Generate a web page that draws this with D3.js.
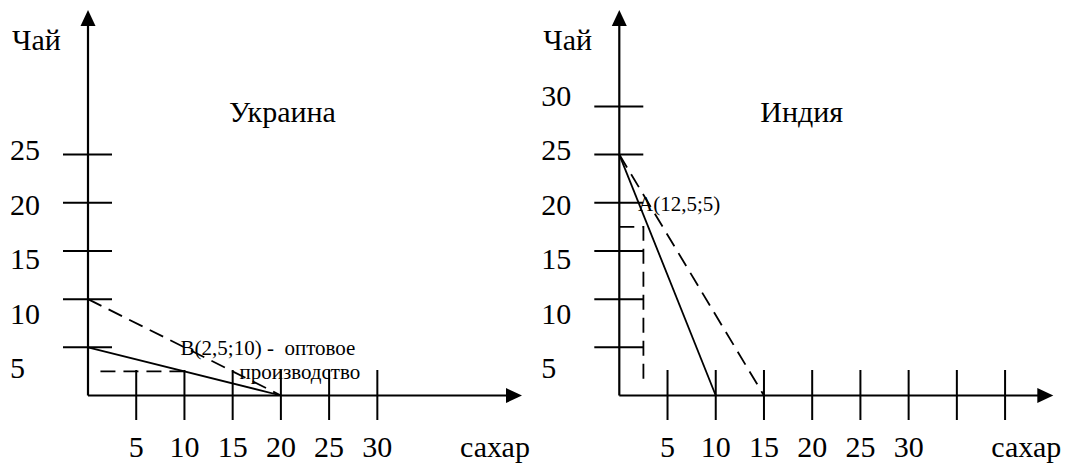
<!DOCTYPE html>
<html>
<head>
<meta charset="utf-8">
<script src="https://cdn.jsdelivr.net/npm/d3@7"></script>
<style>
  html, body { margin: 0; padding: 0; background: #fff; }
  svg { display: block; }
</style>
</head>
<body>
<svg id="chart" width="1068" height="466"></svg>
<script>
// data: two production-possibility diagrams (sugar on x, tea on y)
const yLabelsUkraine = [5, 10, 15, 20, 25];
const yTicksUkraine = [5, 10, 15, 20, 25];
const xTicksUkraine = [5, 10, 15, 20, 25, 30];
const xLabelsUkraine = [5, 10, 15, 20, 25, 30];

const yLabelsIndia = [5, 10, 15, 20, 25, 30];
const yTicksIndia = [5, 10, 15, 20, 25, 30];
const xTicksIndia = [5, 10, 15, 20, 25, 30, 35, 40];
const xLabelsIndia = [5, 10, 15, 20, 25, 30];

// frontier lines: [sugar, tea]
const ukraineSolid = [[0, 5], [20, 0]];
const ukraineDashed = [[0, 10], [20, 0]];
const ukraineGuide = [[10, 2.5], [0.8, 2.5]];

const indiaSolid = [[0, 25], [10, 0]];
const indiaDashed = [[0, 25], [15, 0]];
const indiaGuide = [[0, 17.5], [2.5, 17.5], [2.5, 0.9]];

const FONT = "'Liberation Serif', Tinos, 'Times New Roman', serif";

const svg = d3.select("#chart");

// every text goes through here so the serif face is set on the element itself
function label(g, x, y, str, size, anchor = "start") {
  return g.append("text")
    .attr("x", x).attr("y", y)
    .attr("text-anchor", anchor)
    .style("font-family", FONT)
    .style("font-size", size + "px")
    .style("white-space", "pre")
    .attr("fill", "#000")
    .text(str);
}

function drawPanel(opts) {
  const {
    left, title, yTicks, yLabels, xTicks, xLabels,
    solid, dashed, guide, notes,
  } = opts;

  const x = d3.scaleLinear().domain([0, 45]).range([left, left + 434]);
  const y = d3.scaleLinear().domain([0, 40]).range([395.5, 10]);
  // tick numbers on the y side are set a bit looser than the ticks
  const yLab = d3.scaleLinear().domain([5, 30]).range([378, 105.5]);

  const g = svg.append("g");

  // axes
  g.append("line")
    .attr("x1", x(0)).attr("x2", x(0))
    .attr("y1", y(0)).attr("y2", y(40) + 12)
    .attr("stroke", "#000").attr("stroke-width", 2.2);
  g.append("line")
    .attr("x1", x(0)).attr("x2", x(45) - 12)
    .attr("y1", y(0)).attr("y2", y(0))
    .attr("stroke", "#000").attr("stroke-width", 2.2);

  // arrow heads
  g.append("path")
    .attr("d", `M${x(0)},${y(40)} L${x(0) - 7.5},${y(40) + 16} L${x(0) + 7.5},${y(40) + 16}Z`)
    .attr("fill", "#000");
  g.append("path")
    .attr("d", `M${x(45)},${y(0)} L${x(45) - 16},${y(0) - 7.5} L${x(45) - 16},${y(0) + 7.5}Z`)
    .attr("fill", "#000");

  // ticks crossing the axes
  g.selectAll("line.yt")
    .data(yTicks)
    .join("line")
    .attr("class", "yt")
    .attr("x1", x(0) - 25).attr("x2", x(0) + 24)
    .attr("y1", (d) => y(d)).attr("y2", (d) => y(d))
    .attr("stroke", "#000").attr("stroke-width", 2);

  g.selectAll("line.xt")
    .data(xTicks)
    .join("line")
    .attr("class", "xt")
    .attr("x1", (d) => x(d)).attr("x2", (d) => x(d))
    .attr("y1", y(0) - 25.5).attr("y2", y(0) + 24.5)
    .attr("stroke", "#000").attr("stroke-width", 2);

  // tick labels
  yLabels.forEach((d) => label(g, x(0) - 78, yLab(d), d, 30));
  xLabels.forEach((d) => label(g, x(d), 457, d, 30, "middle"));

  // axis names and title
  label(g, x(0) - 76, 50, "Чай", 30);
  label(g, x(0) + 372, 457, "сахар", 30);
  label(g, x(0) + 141, 122, title, 30);

  const line = d3.line().x((d) => x(d[0])).y((d) => y(d[1]));

  g.append("path")
    .attr("d", line(solid))
    .attr("fill", "none").attr("stroke", "#000").attr("stroke-width", 1.8);
  g.append("path")
    .attr("d", line(dashed))
    .attr("fill", "none").attr("stroke", "#000").attr("stroke-width", 1.8)
    .attr("stroke-dasharray", "15,8");
  g.append("path")
    .attr("d", line(guide))
    .attr("fill", "none").attr("stroke", "#000").attr("stroke-width", 1.8)
    .attr("stroke-dasharray", "15,8");

  notes.forEach((n) => label(g, x(n.sx), y(n.ty), n.text, 21));
}

drawPanel({
  left: 88,
  title: "Украина",
  yTicks: yTicksUkraine,
  yLabels: yLabelsUkraine,
  xTicks: xTicksUkraine,
  xLabels: xLabelsUkraine,
  solid: ukraineSolid,
  dashed: ukraineDashed,
  guide: ukraineGuide,
  notes: [
    { sx: 9.6, ty: 4.2, text: "B(2,5;10) -  оптовое" },
    { sx: 15.7, ty: 1.7, text: "производство" },
  ],
});

drawPanel({
  left: 619.3,
  title: "Индия",
  yTicks: yTicksIndia,
  yLabels: yLabelsIndia,
  xTicks: xTicksIndia,
  xLabels: xLabelsIndia,
  solid: indiaSolid,
  dashed: indiaDashed,
  guide: indiaGuide,
  notes: [
    { sx: 1.95, ty: 19.1, text: "A(12,5;5)" },
  ],
});
</script>
</body>
</html>
